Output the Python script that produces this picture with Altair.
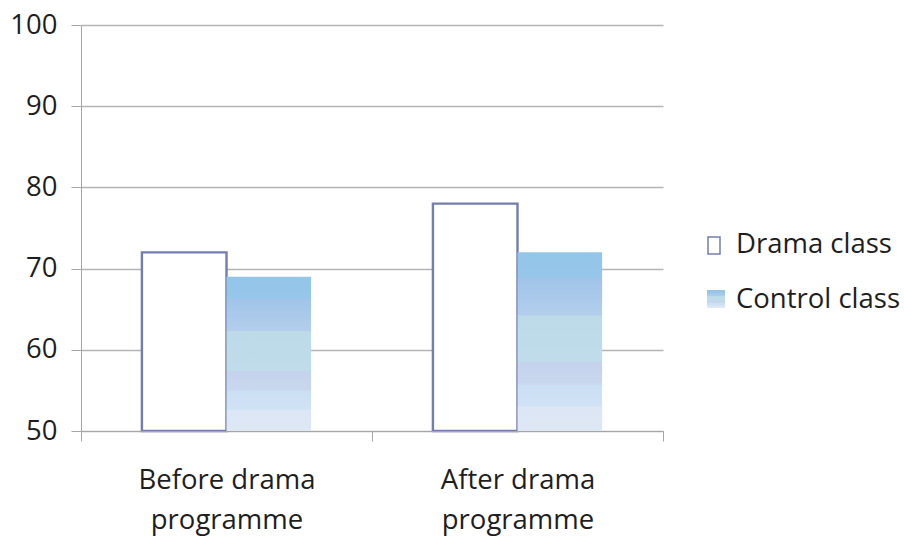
import altair as alt
import pandas as pd

categories = ["Before drama\nprogramme", "After drama\nprogramme"]
series = ["Drama class", "Control class"]
drama_values = [72, 78]
control_values = [69, 72]
y_ticks = [50, 60, 70, 80, 90, 100]
y_base = 50

rows = []
for c, d, k in zip(categories, drama_values, control_values):
    rows.append({"category": c, "series": series[0], "value": d})
    rows.append({"category": c, "series": series[1], "value": k})
df = pd.DataFrame(rows)

FONT = "Open Sans"
FS = 27.5
GRID = "#b4b4b4"
AXIS = "#a6a6a6"
TEXT = "#1e1e1e"
EDGE = "#737db0"

grad = {
    "gradient": "linear", "x1": 0, "y1": 0, "x2": 0, "y2": 1,
    "stops": [
        {"offset": 0.0, "color": "#94c6ea"},
        {"offset": 0.14, "color": "#96c6ea"},
        {"offset": 0.145, "color": "#a0c4e8"},
        {"offset": 0.35, "color": "#b3ceec"},
        {"offset": 0.355, "color": "#bcdae8"},
        {"offset": 0.61, "color": "#c0dcea"},
        {"offset": 0.615, "color": "#c4d2ec"},
        {"offset": 0.73, "color": "#c9d7ee"},
        {"offset": 0.75, "color": "#cce0f4"},
        {"offset": 0.86, "color": "#d0e2f4"},
        {"offset": 0.865, "color": "#dce6f4"},
        {"offset": 1.0, "color": "#dee8f5"},
    ],
}

x_enc = alt.X(
    "category:N", sort=categories, title=None,
    scale=alt.Scale(paddingInner=0, paddingOuter=0),
    axis=alt.Axis(
        labelAngle=0, labelFont=FONT, labelFontSize=FS, labelColor=TEXT,
        labelExpr="split(datum.label, '\\n')", labelLineHeight=40,
        labelPadding=25, tickBand="extent", tickSize=10, tickColor=AXIS,
        domainColor=AXIS, grid=False, zindex=1,
    ),
)
xo_enc = alt.XOffset("series:N", sort=series,
                     scale=alt.Scale(domain=series, paddingInner=0, paddingOuter=0.72))
y_enc = alt.Y(
    "value:Q", title=None,
    scale=alt.Scale(domain=[50, 100], nice=False, zero=False),
    axis=alt.Axis(
        values=y_ticks, labelFont=FONT, labelFontSize=FS, labelColor=TEXT,
        labelPadding=14, tickSize=10, tickColor=AXIS, domainColor=AXIS,
        grid=True, gridColor=GRID, gridWidth=1.3,
    ),
)

base = alt.Chart(df).encode(x=x_enc, xOffset=xo_enc, y=y_enc, y2=alt.Y2Datum(y_base))

drama_bars = base.transform_filter(alt.datum.series == series[0]).mark_bar(
    fill="white", stroke=EDGE, strokeWidth=2.4
)
control_bars = base.transform_filter(alt.datum.series == series[1]).mark_bar(
    fill=grad, strokeWidth=0
)

leg_df0 = pd.DataFrame({"name": [series[0]]})
leg_df1 = pd.DataFrame({"name": [series[1]]})

leg_sym0 = alt.Chart(leg_df0).mark_rect(fill="white", stroke=EDGE, strokeWidth=1.5).encode(
    x=alt.value(627), x2=alt.value(639), y=alt.value(212), y2=alt.value(229)
)
leg_sym1 = alt.Chart(leg_df1).mark_rect(fill=grad).encode(
    x=alt.value(626), x2=alt.value(644), y=alt.value(265), y2=alt.value(283)
)
leg_txt0 = alt.Chart(leg_df0).mark_text(
    align="left", baseline="middle", font=FONT, fontSize=FS, color=TEXT
).encode(x=alt.value(655), y=alt.value(220), text="name:N")
leg_txt1 = alt.Chart(leg_df1).mark_text(
    align="left", baseline="middle", font=FONT, fontSize=FS, color=TEXT
).encode(x=alt.value(655), y=alt.value(275), text="name:N")

chart = alt.layer(
    drama_bars, control_bars, leg_sym0, leg_sym1, leg_txt0, leg_txt1
).properties(
    width=582, height=406,
    autosize=alt.AutoSizeParams(type="none"),
    padding={"left": 81, "top": 25, "right": 241, "bottom": 108},
    background="white",
).configure_view(stroke=None)

chart.save("out.html", embed_options={"renderer": "svg", "actions": False})
